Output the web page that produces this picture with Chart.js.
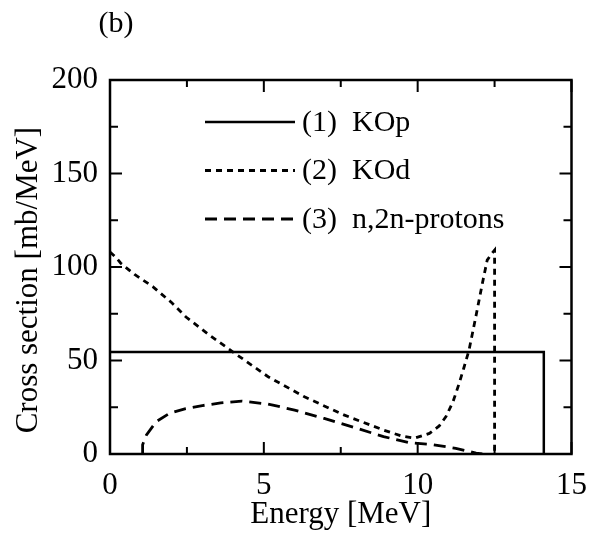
<!DOCTYPE html>
<html>
<head>
<meta charset="utf-8">
<script src="https://cdn.jsdelivr.net/npm/chart.js@4"></script>
<style>
  html, body { margin: 0; padding: 0; background: #fff; }
  #wrap { width: 600px; height: 535px; }
</style>
</head>
<body>
<div id="wrap"><canvas id="myChart" width="600" height="535"></canvas></div>
<script>
// data (energy in MeV, cross section in mb/MeV)
const kopE = [0, 14.1, 14.1];
const kopY = [54.5, 54.5, 0];

const kodE = [0, 0.2, 0.35, 0.8, 1.39, 2.0, 2.46, 3.2, 4.0, 5.14, 6.32, 7.6, 8.89, 9.5, 9.9, 10.38, 10.7, 10.92, 11.15, 11.35, 11.5, 11.67, 11.89, 12.1, 12.26, 12.4, 12.5, 12.5];
const kodY = [108, 105, 102, 96, 89.5, 81, 73.4, 64, 54.5, 41.3, 30.6, 20.9, 12.8, 9.5, 8.5, 11, 15, 20, 28, 37.8, 46, 55.6, 73.4, 91, 103.7, 107, 109, 0];

const n2nE = [1.06, 1.06, 1.18, 1.5, 1.93, 2.46, 3.0, 3.6, 4.28, 5.14, 6.0, 6.96, 8.03, 8.89, 9.74, 10.49, 11.24, 11.9, 12.1];
const n2nY = [0, 5, 10, 17.3, 21.7, 24.3, 25.9, 27.3, 28.3, 26.7, 23.5, 19, 13.7, 9.3, 6, 5, 3, 0.5, 0];

const labels = ["(1)  KOp", "(2)  KOd", "(3)  n,2n-protons"];

const xTicks = [0, 5, 10, 15];
const xMinor = [2.5, 7.5, 12.5];
const yTicks = [0, 50, 100, 150, 200];
const yMinor = [25, 75, 125, 175];

function toPoints(xs, ys) {
  return xs.map((v, i) => ({ x: v, y: ys[i] }));
}

const serif = "'Liberation Serif', 'Times New Roman', serif";
Chart.defaults.font.family = serif;
Chart.defaults.color = "#000";

// box round the plot with ticks pointing inwards, plus panel letter and y title
const frameTicks = {
  id: "frameTicks",
  afterDatasetsDraw(chart) {
    const { ctx, chartArea: a, scales: { x, y } } = chart;
    ctx.save();
    ctx.strokeStyle = "#000";
    ctx.lineWidth = 2.5;
    ctx.setLineDash([]);
    ctx.strokeRect(a.left, a.top, a.right - a.left, a.bottom - a.top);
    ctx.lineWidth = 2;
    ctx.beginPath();
    const xt = xTicks.map(v => [v, 12]).concat(xMinor.map(v => [v, 7]));
    xt.forEach(([v, len]) => {
      const px = x.getPixelForValue(v);
      ctx.moveTo(px, a.bottom); ctx.lineTo(px, a.bottom - len);
      ctx.moveTo(px, a.top); ctx.lineTo(px, a.top + len);
    });
    const yt = yTicks.map(v => [v, 12]).concat(yMinor.map(v => [v, 8]));
    yt.forEach(([v, len]) => {
      const py = y.getPixelForValue(v);
      ctx.moveTo(a.left, py); ctx.lineTo(a.left + len, py);
      ctx.moveTo(a.right, py); ctx.lineTo(a.right - len, py);
    });
    ctx.stroke();

    ctx.fillStyle = "#000";
    ctx.textAlign = "center";
    ctx.textBaseline = "middle";
    ctx.font = "30px " + serif;
    ctx.fillText("(b)", 116, 24);

    // y axis title, a little below the middle like the original
    ctx.font = "31px " + serif;
    ctx.translate(29, y.getPixelForValue(93));
    ctx.rotate(-Math.PI / 2);
    ctx.fillText("Cross section [mb/MeV]", 0, 0);
    ctx.restore();
  }
};

// legend: a line sample and the label for each dataset
const legendLines = {
  id: "legendLines",
  afterDatasetsDraw(chart) {
    const ctx = chart.ctx;
    ctx.save();
    ctx.strokeStyle = "#000";
    ctx.fillStyle = "#000";
    ctx.font = "30px " + serif;
    ctx.textAlign = "left";
    ctx.textBaseline = "middle";
    chart.data.datasets.forEach((ds, i) => {
      const yy = 123 + i * 48.5;
      ctx.lineWidth = ds.borderWidth;
      ctx.setLineDash(ds.borderDash || []);
      ctx.beginPath();
      ctx.moveTo(205, yy - 1);
      ctx.lineTo(295, yy - 1);
      ctx.stroke();
      ctx.setLineDash([]);
      ctx.fillText(ds.label, 302, yy);
    });
    ctx.restore();
  }
};

const ctx = document.getElementById("myChart").getContext("2d");
const myChart = new Chart(ctx, {
  type: "scatter",
  data: {
    datasets: [
      {
        label: labels[0],
        data: toPoints(kopE, kopY),
        showLine: true,
        borderColor: "#000",
        borderWidth: 2.5,
        borderDash: [],
        pointRadius: 0,
        fill: false
      },
      {
        label: labels[1],
        data: toPoints(kodE, kodY),
        showLine: true,
        borderColor: "#000",
        borderWidth: 2.8,
        borderDash: [6, 5],
        pointRadius: 0,
        fill: false
      },
      {
        label: labels[2],
        data: toPoints(n2nE, n2nY),
        showLine: true,
        borderColor: "#000",
        borderWidth: 2.8,
        borderDash: [12, 7],
        pointRadius: 0,
        fill: false
      }
    ]
  },
  options: {
    responsive: false,
    animation: false,
    layout: { padding: { left: 0, right: 23, top: 80, bottom: 0 } },
    plugins: {
      legend: { display: false },
      tooltip: { enabled: false }
    },
    scales: {
      x: {
        type: "linear",
        min: 0,
        max: 15,
        afterBuildTicks: (s) => { s.ticks = xTicks.map(v => ({ value: v })); },
        afterFit: (s) => { s.height = 81; },
        ticks: { font: { size: 31 }, color: "#000", padding: 13 },
        grid: { display: false, drawTicks: false },
        border: { display: false },
        title: {
          display: true,
          text: "Energy [MeV]",
          font: { size: 31 },
          color: "#000",
          padding: { top: 0, bottom: 2 }
        }
      },
      y: {
        type: "linear",
        min: 0,
        max: 200,
        afterBuildTicks: (s) => { s.ticks = yTicks.map(v => ({ value: v })); },
        afterFit: (s) => { s.width = 110; },
        ticks: { font: { size: 31 }, color: "#000", padding: 12 },
        grid: { display: false, drawTicks: false },
        border: { display: false },
        title: { display: false }
      }
    }
  },
  plugins: [frameTicks, legendLines]
});
</script>
</body>
</html>
